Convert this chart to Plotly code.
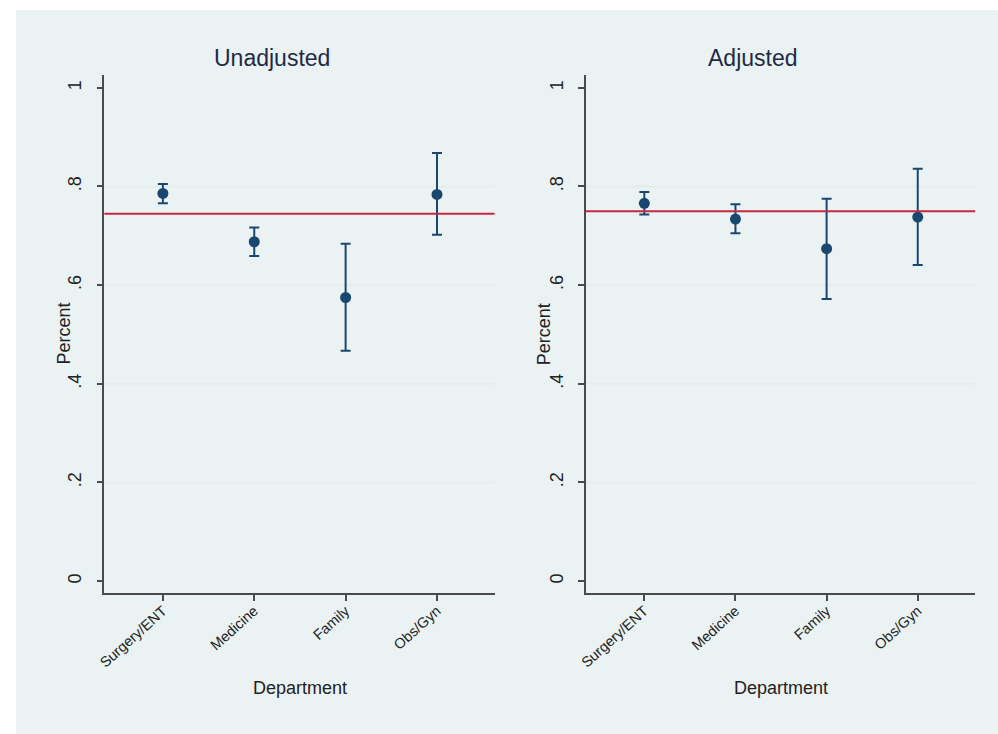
import plotly.graph_objects as go

departments = ["Surgery/ENT", "Medicine", "Family", "Obs/Gyn"]

unadj_est = [0.786, 0.688, 0.575, 0.784]
unadj_lo = [0.766, 0.659, 0.467, 0.702]
unadj_hi = [0.805, 0.717, 0.684, 0.868]
unadj_ref = 0.745

adj_est = [0.766, 0.734, 0.674, 0.738]
adj_lo = [0.743, 0.705, 0.572, 0.641]
adj_hi = [0.789, 0.764, 0.775, 0.836]
adj_ref = 0.750

y_tickvals = [0, 0.2, 0.4, 0.6, 0.8, 1]
y_ticktext = ["0", ".2", ".4", ".6", ".8", "1"]
grid_vals = [0.2, 0.4, 0.6, 0.8]

panel_titles = ["Unadjusted", "Adjusted"]
x_title = "Department"
y_title = "Percent"

NAVY = "#1a476f"
RED = "#c8283f"
BG = "#eaf2f3"
GRID = "#e4ecee"
AXIS = "#4a4a4a"
FONT = "Liberation Sans, Arial, sans-serif"
TXT = "#222222"

W, H = 998, 734


def px(x):
    return x / W


def py(y):
    return 1 - y / H


fig = go.Figure()

panels = [
    (unadj_est, unadj_lo, unadj_hi, "x", "y"),
    (adj_est, adj_lo, adj_hi, "x2", "y2"),
]
for est, lo, hi, xa, ya in panels:
    fig.add_trace(go.Scatter(
        x=departments, y=est, mode="markers",
        marker=dict(color=NAVY, size=11),
        error_y=dict(type="data", symmetric=False,
                     array=[h - e for h, e in zip(hi, est)],
                     arrayminus=[e - l for e, l in zip(est, lo)],
                     color=NAVY, thickness=2, width=5),
        xaxis=xa, yaxis=ya, showlegend=False, cliponaxis=False,
        hoverinfo="skip",
    ))

# background region
fig.add_shape(type="rect", xref="paper", yref="paper",
              x0=px(9), x1=1, y0=0, y1=py(10),
              fillcolor=BG, line=dict(width=0), layer="below")

# gridlines and reference lines
for ref, xa, ya in [(unadj_ref, "x", "y"), (adj_ref, "x2", "y2")]:
    xd = xa + " domain"
    for g in grid_vals:
        fig.add_shape(type="line", xref=xd, yref=ya, x0=0, x1=1, y0=g, y1=g,
                      line=dict(color=GRID, width=2), layer="below")
    fig.add_shape(type="line", xref=xd, yref=ya, x0=0, x1=1, y0=ref, y1=ref,
                  line=dict(color=RED, width=2), layer="above")

xdom1 = [px(98), px(491)]
xdom2 = [px(583), px(975)]
ydom = [py(593), py(75)]

xcommon = dict(type="category", range=[-0.641, 3.63], showline=True, linecolor=AXIS,
               linewidth=1.5, ticks="outside", ticklen=6, tickcolor=AXIS, tickwidth=1.5,
               tickangle=-42, ticklabelstandoff=-4,
               tickfont=dict(family=FONT, size=14.5, color=TXT),
               showgrid=False, zeroline=False, mirror=False, fixedrange=True)
ycommon = dict(range=[-0.024, 1.026], tickvals=y_tickvals, ticktext=y_ticktext,
               showline=True, linecolor=AXIS, linewidth=1.5, ticks="outside", ticklen=6,
               tickcolor=AXIS, tickwidth=1.5, tickangle=-90, ticklabelstandoff=8,
               tickfont=dict(family=FONT, size=18, color=TXT),
               showgrid=False, zeroline=False, mirror=False, fixedrange=True)

fig.update_layout(
    width=W, height=H,
    margin=dict(l=0, r=0, t=0, b=0),
    paper_bgcolor="white", plot_bgcolor="white",
    xaxis=dict(domain=xdom1, anchor="y", **xcommon),
    yaxis=dict(domain=ydom, anchor="x", **ycommon),
    xaxis2=dict(domain=xdom2, anchor="y2", **xcommon),
    yaxis2=dict(domain=ydom, anchor="x2", **ycommon),
    showlegend=False,
    hovermode=False,
)

anns = []
for title, cx, ax_x, pc in [(panel_titles[0], 267, 57, 295), (panel_titles[1], 751, 541, 779)]:
    anns.append(dict(text=title, x=px(cx), y=py(58), xref="paper", yref="paper",
                     showarrow=False, xanchor="center", yanchor="middle",
                     font=dict(family=FONT, size=23, color="#1e2a48")))
    anns.append(dict(text=y_title, x=px(ax_x), y=py(334), xref="paper", yref="paper",
                     showarrow=False, xanchor="center", yanchor="middle", textangle=-90,
                     font=dict(family=FONT, size=18, color=TXT)))
    anns.append(dict(text=x_title, x=px(pc), y=py(688), xref="paper", yref="paper",
                     showarrow=False, xanchor="center", yanchor="middle",
                     font=dict(family=FONT, size=18, color=TXT)))
fig.update_layout(annotations=anns)

fig.write_html("out.html", config={"displayModeBar": False},
               post_script="document.body.style.margin='0';document.body.style.overflow='hidden';")
